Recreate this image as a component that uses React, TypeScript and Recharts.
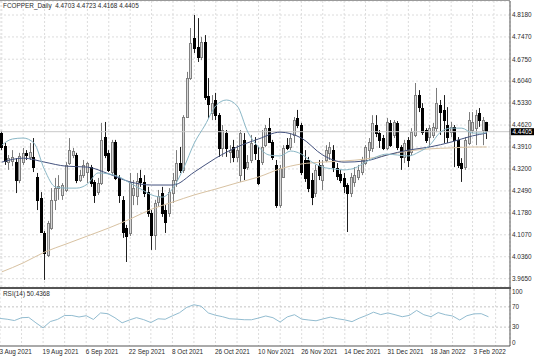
import { ComposedChart, Bar, Line, XAxis, YAxis, CartesianGrid, ReferenceLine } from "recharts";

const symbolTitle = "FCOPPER_Daily  4.4703 4.4723 4.4168 4.4405";
const rsiTitle = "RSI(14) 50.4368";
const lastPrice = 4.4405;

// one label every 12 bars, starting at the first bar
const dateLabels = [
    "3 Aug 2021", "19 Aug 2021", "6 Sep 2021", "22 Sep 2021", "8 Oct 2021", "26 Oct 2021",
    "10 Nov 2021", "26 Nov 2021", "14 Dec 2021", "31 Dec 2021", "18 Jan 2022", "3 Feb 2022",
];
const priceTicks = [3.965, 4.036, 4.107, 4.178, 4.249, 4.32, 4.391, 4.462, 4.533, 4.604, 4.675, 4.747, 4.818];
const rsiTicks = [0, 30, 70, 100];

// daily candles, 3 Aug 2021 .. 9 Feb 2022
const open = [
    4.436, 4.394, 4.342, 4.346, 4.342, 4.284, 4.342, 4.372, 4.359, 4.359,
    4.294, 4.226, 4.113, 4.042, 4.129, 4.220, 4.258, 4.236, 4.252, 4.339,
    4.365, 4.365, 4.284, 4.300, 4.310, 4.326, 4.278, 4.245, 4.274, 4.423,
    4.372, 4.310, 4.407, 4.291, 4.220, 4.129, 4.113, 4.236, 4.232, 4.291,
    4.278, 4.245, 4.177, 4.106, 4.213, 4.242, 4.187, 4.177, 4.242, 4.284,
    4.339, 4.317, 4.488, 4.614, 4.744, 4.714, 4.682, 4.731, 4.556, 4.501,
    4.543, 4.494, 4.388, 4.436, 4.375, 4.391, 4.359, 4.300, 4.414, 4.326,
    4.349, 4.397, 4.349, 4.342, 4.397, 4.452, 4.407, 4.333, 4.203, 4.294,
    4.397, 4.391, 4.430, 4.485, 4.462, 4.349, 4.349, 4.284, 4.242, 4.333,
    4.284, 4.349, 4.372, 4.381, 4.323, 4.304, 4.291, 4.268, 4.242, 4.278,
    4.294, 4.310, 4.339, 4.381, 4.388, 4.462, 4.436, 4.420, 4.388, 4.469,
    4.430, 4.469, 4.391, 4.359, 4.414, 4.375, 4.430, 4.559, 4.517, 4.446,
    4.423, 4.430, 4.452, 4.527, 4.511, 4.462, 4.439, 4.456, 4.414, 4.339,
    4.326, 4.404, 4.446, 4.452, 4.501, 4.446, 4.4703,
];
const high = [
    4.443, 4.404, 4.365, 4.381, 4.355, 4.372, 4.388, 4.381, 4.404, 4.420,
    4.307, 4.245, 4.119, 4.152, 4.258, 4.291, 4.300, 4.274, 4.342, 4.420,
    4.388, 4.372, 4.317, 4.349, 4.342, 4.333, 4.284, 4.291, 4.469, 4.472,
    4.381, 4.414, 4.414, 4.300, 4.232, 4.139, 4.307, 4.284, 4.307, 4.317,
    4.300, 4.262, 4.187, 4.220, 4.252, 4.262, 4.203, 4.258, 4.307, 4.381,
    4.391, 4.494, 4.634, 4.776, 4.818, 4.808, 4.747, 4.753, 4.614, 4.559,
    4.566, 4.501, 4.462, 4.446, 4.397, 4.414, 4.397, 4.446, 4.436, 4.365,
    4.430, 4.423, 4.391, 4.446, 4.462, 4.485, 4.414, 4.349, 4.333, 4.397,
    4.420, 4.436, 4.488, 4.511, 4.469, 4.381, 4.359, 4.307, 4.333, 4.349,
    4.349, 4.397, 4.407, 4.397, 4.339, 4.317, 4.307, 4.274, 4.307, 4.326,
    4.333, 4.359, 4.397, 4.420, 4.494, 4.494, 4.446, 4.430, 4.485, 4.478,
    4.478, 4.475, 4.397, 4.414, 4.423, 4.452, 4.598, 4.575, 4.533, 4.452,
    4.462, 4.469, 4.582, 4.543, 4.559, 4.520, 4.472, 4.462, 4.423, 4.355,
    4.423, 4.504, 4.504, 4.511, 4.517, 4.488, 4.4723,
];
const low = [
    4.381, 4.333, 4.317, 4.329, 4.242, 4.274, 4.333, 4.349, 4.349, 4.310,
    4.187, 4.113, 3.961, 4.035, 4.123, 4.187, 4.220, 4.220, 4.245, 4.333,
    4.355, 4.274, 4.278, 4.291, 4.274, 4.262, 4.210, 4.236, 4.268, 4.355,
    4.310, 4.300, 4.284, 4.210, 4.097, 4.019, 4.103, 4.203, 4.203, 4.262,
    4.229, 4.165, 4.058, 4.058, 4.197, 4.165, 4.113, 4.165, 4.210, 4.262,
    4.307, 4.307, 4.485, 4.608, 4.695, 4.666, 4.672, 4.543, 4.485, 4.478,
    4.478, 4.359, 4.359, 4.359, 4.339, 4.342, 4.342, 4.278, 4.284, 4.317,
    4.339, 4.349, 4.268, 4.333, 4.391, 4.404, 4.349, 4.194, 4.194, 4.291,
    4.381, 4.381, 4.404, 4.452, 4.300, 4.278, 4.245, 4.203, 4.229, 4.284,
    4.252, 4.342, 4.349, 4.310, 4.284, 4.274, 4.242, 4.116, 4.229, 4.262,
    4.284, 4.300, 4.333, 4.349, 4.375, 4.423, 4.388, 4.381, 4.381, 4.391,
    4.420, 4.381, 4.317, 4.339, 4.326, 4.365, 4.423, 4.504, 4.430, 4.404,
    4.391, 4.420, 4.439, 4.430, 4.404, 4.404, 4.423, 4.326, 4.323, 4.278,
    4.317, 4.397, 4.436, 4.397, 4.456, 4.397, 4.4168,
];
const close = [
    4.391, 4.346, 4.355, 4.359, 4.284, 4.362, 4.372, 4.365, 4.375, 4.326,
    4.220, 4.116, 4.048, 4.145, 4.220, 4.258, 4.265, 4.268, 4.333, 4.381,
    4.378, 4.284, 4.300, 4.333, 4.339, 4.274, 4.236, 4.274, 4.414, 4.365,
    4.317, 4.407, 4.291, 4.236, 4.116, 4.103, 4.278, 4.258, 4.281, 4.278,
    4.242, 4.177, 4.106, 4.210, 4.232, 4.177, 4.148, 4.245, 4.284, 4.339,
    4.317, 4.488, 4.614, 4.727, 4.711, 4.682, 4.731, 4.553, 4.530, 4.533,
    4.494, 4.388, 4.446, 4.388, 4.381, 4.359, 4.381, 4.436, 4.323, 4.342,
    4.404, 4.372, 4.274, 4.391, 4.452, 4.407, 4.359, 4.203, 4.323, 4.388,
    4.388, 4.420, 4.478, 4.462, 4.310, 4.291, 4.258, 4.229, 4.317, 4.300,
    4.333, 4.381, 4.391, 4.326, 4.297, 4.284, 4.265, 4.242, 4.294, 4.300,
    4.317, 4.349, 4.391, 4.407, 4.469, 4.436, 4.414, 4.388, 4.472, 4.397,
    4.472, 4.391, 4.359, 4.404, 4.349, 4.439, 4.559, 4.520, 4.439, 4.414,
    4.452, 4.456, 4.533, 4.504, 4.478, 4.423, 4.456, 4.414, 4.333, 4.323,
    4.414, 4.478, 4.472, 4.494, 4.478, 4.478, 4.4405,
];

// moving averages; the last value belongs to the last bar
const maFast = [ // every 3 bars
    4.397, 4.417, 4.420, 4.404, 4.317, 4.262, 4.258, 4.258, 4.271, 4.307,
    4.304, 4.294, 4.274, 4.255, 4.236, 4.229, 4.258, 4.323, 4.404, 4.462,
    4.524, 4.543, 4.524, 4.439, 4.391, 4.365, 4.362, 4.378, 4.368, 4.342,
    4.326, 4.320, 4.317, 4.323, 4.342, 4.359, 4.368, 4.365, 4.362, 4.375,
    4.397, 4.439, 4.452, 4.452, 4.436, 4.436, 4.439,
];
const maMid = [ // every 6 bars
    4.342, 4.355, 4.342, 4.329, 4.326, 4.304, 4.278, 4.268, 4.268, 4.310,
    4.355, 4.391, 4.417, 4.439, 4.420, 4.365, 4.342, 4.346, 4.365, 4.381,
    4.391, 4.407, 4.427, 4.436,
];
const maSlow = [ // every 6 bars
    3.987, 4.016, 4.051, 4.077, 4.103, 4.129, 4.158, 4.190, 4.213, 4.236,
    4.255, 4.275, 4.294, 4.320, 4.336, 4.342, 4.346, 4.352, 4.365, 4.378,
    4.385, 4.388, 4.391, 4.391,
];
const rsi = [ // every 2 bars
    47.2, 45.6, 43, 48.6, 49.2, 38.5, 28.5, 41, 45.2, 53,
    53, 50, 52.5, 45.2, 58, 56.5, 48.5, 38.5, 44, 48.7,
    44.8, 39, 46.5, 45.6, 52.3, 58.5, 69, 74.2, 71.3, 58,
    53.5, 50.5, 46.5, 45.7, 44.6, 44.5, 48, 52, 48.6, 40,
    50.2, 54.5, 45.8, 44, 42.5, 46.3, 49.7, 46.5, 44.3, 40.8,
    47.6, 53, 59.5, 54.7, 58, 54.5, 50.5, 53.2, 63, 54.5,
    50.6, 58.7, 54.5, 52, 44, 52.5, 56.2, 56.5, 50.4,
];

const BARS = open.length;
const LAST = BARS - 1;
const SLOTS = BARS + 6; // empty space right of the last candle
const gridTicks = Array.from({ length: Math.ceil(SLOTS / 6) }, (_, k) => k * 6).filter((i) => i < SLOTS);

function sample(vals: number[], step: number, i: number) {
    if (i === LAST) return vals[vals.length - 1];
    const k = i / step;
    if (Number.isInteger(k) && k < vals.length - 1) return vals[k];
    return null;
}

const rows = Array.from({ length: SLOTS }, (_, i) => {
    if (i >= BARS) return { i };
    return {
        i,
        open: open[i],
        high: high[i],
        low: low[i],
        close: close[i],
        range: [low[i], high[i]],
        fast: sample(maFast, 3, i),
        mid: sample(maMid, 6, i),
        slow: sample(maSlow, 6, i),
        rsi: sample(rsi, 2, i),
    };
});

const FONT = "'Liberation Sans', Arial, sans-serif";
const TEXT = "#2a2a2a";
const GRID = "#dcdcdc";

function Candle(props: any) {
    const { x, y, width, height, payload } = props;
    if (!payload || payload.open == null) return <g />;
    const top = Math.min(y, y + height);
    const span = Math.abs(height);
    const { open: o, close: c, high: h, low: l } = payload;
    const k = h === l ? 0 : span / (h - l);
    const yO = top + (h - o) * k;
    const yC = top + (h - c) * k;
    const cx = Math.floor(x + width / 2) + 0.5;
    const bull = c >= o;
    const bTop = Math.round(Math.min(yO, yC)) + 0.5;
    const bH = Math.max(1, Math.round(Math.abs(yO - yC)));
    return (
        <g>
            <line x1={cx} x2={cx} y1={top} y2={top + span} stroke={bull ? "#7c7c7c" : "#202020"} strokeWidth={1} />
            <rect x={cx - 1} y={bTop} width={2} height={bH} fill={bull ? "#d8d8d8" : "#000"} stroke={bull ? "#808080" : "#000"} strokeWidth={1} />
        </g>
    );
}

function PriceTick(props: any) {
    const { x, y, payload } = props;
    return (
        <text x={x} y={y} dy={2.3} fontSize={6.4} fill={TEXT} fontFamily={FONT} textAnchor="start">
            {Number(payload.value).toFixed(4)}
        </text>
    );
}

function RsiTick(props: any) {
    const { x, y, payload } = props;
    return (
        <text x={x} y={y} dy={2.3} fontSize={6.4} fill={TEXT} fontFamily={FONT} textAnchor="start">
            {payload.value}
        </text>
    );
}

function DateTick(props: any) {
    const { x, y, payload } = props;
    const i = payload.value;
    if (i % 12 !== 0 || !dateLabels[i / 12]) return <g />;
    return (
        <text x={x - 0.5} y={y + 5.8} fontSize={6.4} fill={TEXT} fontFamily={FONT} textAnchor="start">
            {dateLabels[i / 12]}
        </text>
    );
}

function PriceBox(props: any) {
    const { viewBox } = props;
    if (!viewBox) return null;
    const bx = viewBox.x + viewBox.width + 1;
    return (
        <g>
            <rect x={bx} y={viewBox.y - 3.5} width={23} height={7} fill="#000" />
            <text x={bx + 1.5} y={viewBox.y + 2.3} fontSize={6.4} fill="#fff" fontFamily={FONT}>
                {lastPrice.toFixed(4)}
            </text>
        </g>
    );
}

export default function App() {
    return (
        <div style={{ position: "relative", width: 536, height: 359, background: "#fff", overflow: "hidden" }}>
            <style>{"body{margin:0}"}</style>
            <ComposedChart width={536} height={288} data={rows} margin={{ top: 1, right: 0, bottom: 1, left: 0 }}>
                <CartesianGrid stroke={GRID} strokeDasharray="2 2" />
                <XAxis dataKey="i" type="category" ticks={gridTicks} interval={0} hide />
                <YAxis
                    orientation="right"
                    width={26}
                    domain={[3.9381, 4.8633]}
                    allowDataOverflow
                    ticks={priceTicks}
                    interval={0}
                    tickLine={false}
                    tickSize={0}
                    tickMargin={2}
                    axisLine={{ stroke: "#555" }}
                    tick={<PriceTick />}
                />
                <ReferenceLine y={lastPrice} stroke="#c8c8c8" label={<PriceBox />} />
                <Line dataKey="slow" type="monotone" stroke="#d8c2a2" strokeWidth={1} dot={false} connectNulls isAnimationActive={false} />
                <Line dataKey="mid" type="monotone" stroke="#44527e" strokeWidth={1} dot={false} connectNulls isAnimationActive={false} />
                <Line dataKey="fast" type="monotone" stroke="#8ab7c6" strokeWidth={1} dot={false} connectNulls isAnimationActive={false} />
                <Bar dataKey="range" shape={<Candle />} isAnimationActive={false} />
            </ComposedChart>
            <div style={{ position: "absolute", left: 0, top: 288 }}>
                <ComposedChart width={536} height={71} data={rows} margin={{ top: 1, right: 0, bottom: 0, left: 0 }}>
                    <CartesianGrid stroke={GRID} strokeDasharray="2 2" horizontal={false} />
                    <XAxis
                        dataKey="i"
                        type="category"
                        ticks={gridTicks}
                        interval={0}
                        height={13}
                        tickLine={false}
                        tickSize={0}
                        tickMargin={2}
                        axisLine={{ stroke: "#555" }}
                        tick={<DateTick />}
                    />
                    <YAxis
                        orientation="right"
                        width={26}
                        domain={[-7.3, 105.3]}
                        allowDataOverflow
                        ticks={rsiTicks}
                        interval={0}
                        tickLine={false}
                        tickSize={0}
                        tickMargin={2}
                        axisLine={{ stroke: "#555" }}
                        tick={<RsiTick />}
                    />
                    <ReferenceLine y={70} stroke="#c4c4c4" strokeDasharray="2 2" />
                    <ReferenceLine y={30} stroke="#c4c4c4" strokeDasharray="2 2" />
                    <Line dataKey="rsi" stroke="#92bcd0" strokeWidth={1} dot={false} connectNulls isAnimationActive={false} />
                </ComposedChart>
            </div>
            <svg width={536} height={359} style={{ position: "absolute", left: 0, top: 0, pointerEvents: "none" }}>
                <line x1={0} x2={510} y1={0.5} y2={0.5} stroke="#9a9a9a" />
                <rect x={0} y={287} width={511} height={2} fill="#555" />
                <text x={3} y={8.3} fontSize={6.4} fill={TEXT} fontFamily={FONT} xmlSpace="preserve">
                    {symbolTitle}
                </text>
                <text x={3} y={295.5} fontSize={6.4} fill={TEXT} fontFamily={FONT}>
                    {rsiTitle}
                </text>
            </svg>
        </div>
    );
}
